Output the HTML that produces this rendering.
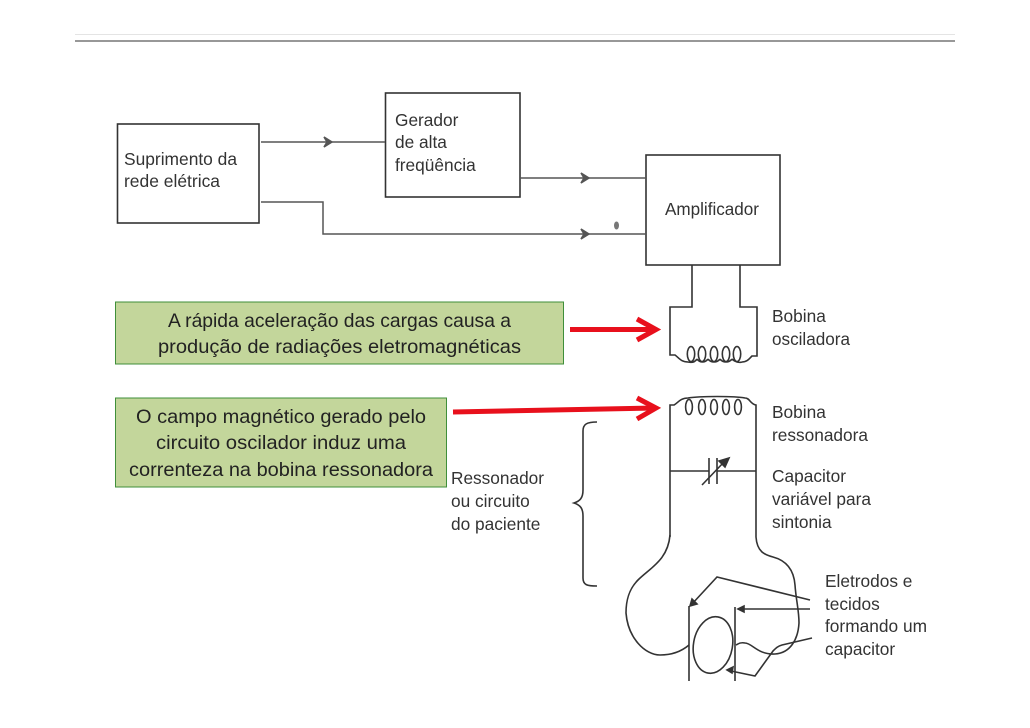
<!DOCTYPE html>
<html><head><meta charset="utf-8"><style>
html,body{margin:0;padding:0;background:#fff;width:1030px;height:728px;overflow:hidden}
svg{display:block}
.t{font-family:"Liberation Sans",sans-serif;font-size:17.3px;fill:#333}
.g{font-family:"Liberation Sans",sans-serif;font-size:19.5px;fill:#222}
</style></head><body>
<svg width="1030" height="728" viewBox="0 0 1030 728" xmlns="http://www.w3.org/2000/svg">
<line x1="75" y1="34.5" x2="955" y2="34.5" stroke="#e4e4e4" stroke-width="1"/>
<line x1="75" y1="41" x2="955" y2="41" stroke="#777" stroke-width="1.6"/>

<g fill="none" stroke="#333" stroke-width="1.6">
<rect x="117.5" y="124" width="141.5" height="99"/>
<rect x="385.5" y="93" width="134.5" height="104"/>
<rect x="646" y="155" width="134" height="110"/>
</g>
<g fill="none" stroke="#555" stroke-width="1.5">
<path d="M261 142H385"/>
<path d="M261 202H323V234H646"/>
<path d="M520 178H646"/>
<path d="M324 137L332 142L324 147L327 142Z" fill="#555"/>
<path d="M581 173L589 178L581 183L584 178Z" fill="#555"/>
<path d="M581 229L589 234L581 239L584 234Z" fill="#555"/>
</g>
<ellipse cx="616.5" cy="225.5" rx="2.5" ry="4" fill="#777"/>

<g fill="none" stroke="#333" stroke-width="1.6">
<path d="M692 265V307H670V355H675C679 358 681 362 688 362"/>
<path d="M740 265V307H757V356H752C749 359 747 362 742 362"/>
<path d="M688 362C692 363 695 362 697 359M697 359C700 363 705 363 708 359M708 359C711 363 717 363 720 359M720 359C723 363 729 363 732 359M732 359C735 362 739 363 742 362"/>
<ellipse cx="691" cy="354" rx="3.7" ry="7.5"/>
<ellipse cx="702" cy="354" rx="3.7" ry="7.5"/>
<ellipse cx="714" cy="354" rx="3.7" ry="7.5"/>
<ellipse cx="726" cy="354" rx="3.7" ry="7.5"/>
<ellipse cx="737" cy="354" rx="3.7" ry="7.5"/>

<path d="M670 537V405H674C678 403 680 398 688 398C700 396 735 396 745 398C750 398 750 404 756 405V537"/>
<ellipse cx="689" cy="407" rx="3.4" ry="7.5"/>
<ellipse cx="702" cy="407" rx="3.4" ry="7.5"/>
<ellipse cx="714" cy="407" rx="3.4" ry="7.5"/>
<ellipse cx="726" cy="407" rx="3.4" ry="7.5"/>
<ellipse cx="738" cy="407" rx="3.4" ry="7.5"/>

<path d="M670 471H709M717 471H756"/>
<path d="M709 458V484M717 458V484"/>
<path d="M702 485L724 462"/>
<path d="M729 458L719 461L725 467Z" fill="#333"/>

<path d="M670 535C668 560 650 568 638 580C628 590 626 602 626 613C628 638 645 655 660 655C672 655 682 651 689 645"/>
<path d="M756 537C757 552 765 555 773 557C788 561 794 572 795 585C796 600 799 610 799 623C798 640 790 653 775 654C758 655 752 643 745 643C740 642 738 644 736 645"/>

<path d="M689 606V681M735 607V681"/>
<ellipse cx="713" cy="645" rx="19.5" ry="28.5" transform="rotate(10 713 645)"/>

<path d="M810 600L717 577L692 604"/>
<path d="M810 609H739"/>
<path d="M812 638L782 645C778 646 776 648 773 651L755 676L731 671"/>
<path d="M690 606L692 599L697 604Z" fill="#333"/>
<path d="M738 609L744 606V612Z" fill="#333"/>
<path d="M727 670L733 667L732 673Z" fill="#333"/>

<path d="M597 422C587 422 583 424 583 431V490C583 498 580 501 574 503C580 505 583 508 583 516V578C583 585 587 586 597 586"/>
</g>

<text class="t" x="124" y="165" textLength="113" lengthAdjust="spacingAndGlyphs">Suprimento da</text>
<text class="t" x="124" y="187" textLength="96" lengthAdjust="spacingAndGlyphs">rede elétrica</text>
<text class="t" x="395" y="126">Gerador</text>
<text class="t" x="395" y="148">de alta</text>
<text class="t" x="395" y="171">freqüência</text>
<text class="t" x="665" y="215" textLength="94" lengthAdjust="spacingAndGlyphs">Amplificador</text>
<text class="t" x="772" y="322">Bobina</text>
<text class="t" x="772" y="345" textLength="78" lengthAdjust="spacingAndGlyphs">osciladora</text>
<text class="t" x="772" y="418">Bobina</text>
<text class="t" x="772" y="441" textLength="96" lengthAdjust="spacingAndGlyphs">ressonadora</text>
<text class="t" x="772" y="482">Capacitor</text>
<text class="t" x="772" y="505">variável para</text>
<text class="t" x="772" y="528">sintonia</text>
<text class="t" x="451" y="484" textLength="93" lengthAdjust="spacingAndGlyphs">Ressonador</text>
<text class="t" x="451" y="507">ou circuito</text>
<text class="t" x="451" y="530">do paciente</text>
<text class="t" x="825" y="587">Eletrodos e</text>
<text class="t" x="825" y="610">tecidos</text>
<text class="t" x="825" y="632" textLength="102" lengthAdjust="spacingAndGlyphs">formando um</text>
<text class="t" x="825" y="655">capacitor</text>

<rect x="115.5" y="302" width="448" height="62" fill="#c3d69b" stroke="#3f8f3a" stroke-width="1"/>
<rect x="115.5" y="398" width="331" height="89" fill="#c3d69b" stroke="#3f8f3a" stroke-width="1"/>
<text class="g" x="168" y="327" textLength="343" lengthAdjust="spacingAndGlyphs">A rápida aceleração das cargas causa a</text>
<text class="g" x="158" y="353" textLength="363" lengthAdjust="spacingAndGlyphs">produção de radiações eletromagnéticas</text>
<text class="g" x="136" y="423" textLength="290" lengthAdjust="spacingAndGlyphs">O campo magnético gerado pelo</text>
<text class="g" x="156" y="449" textLength="250" lengthAdjust="spacingAndGlyphs">circuito oscilador induz uma</text>
<text class="g" x="129" y="476" textLength="304" lengthAdjust="spacingAndGlyphs">correnteza na bobina ressonadora</text>

<g fill="none" stroke="#e8101c" stroke-width="5" stroke-linejoin="miter">
<path d="M570 329.5H656"/>
<path d="M637 319L656 329.5L637 340"/>
<path d="M453 412L656 408"/>
<path d="M637 398L656 408L637 419"/>
</g>
</svg>
</body></html>
